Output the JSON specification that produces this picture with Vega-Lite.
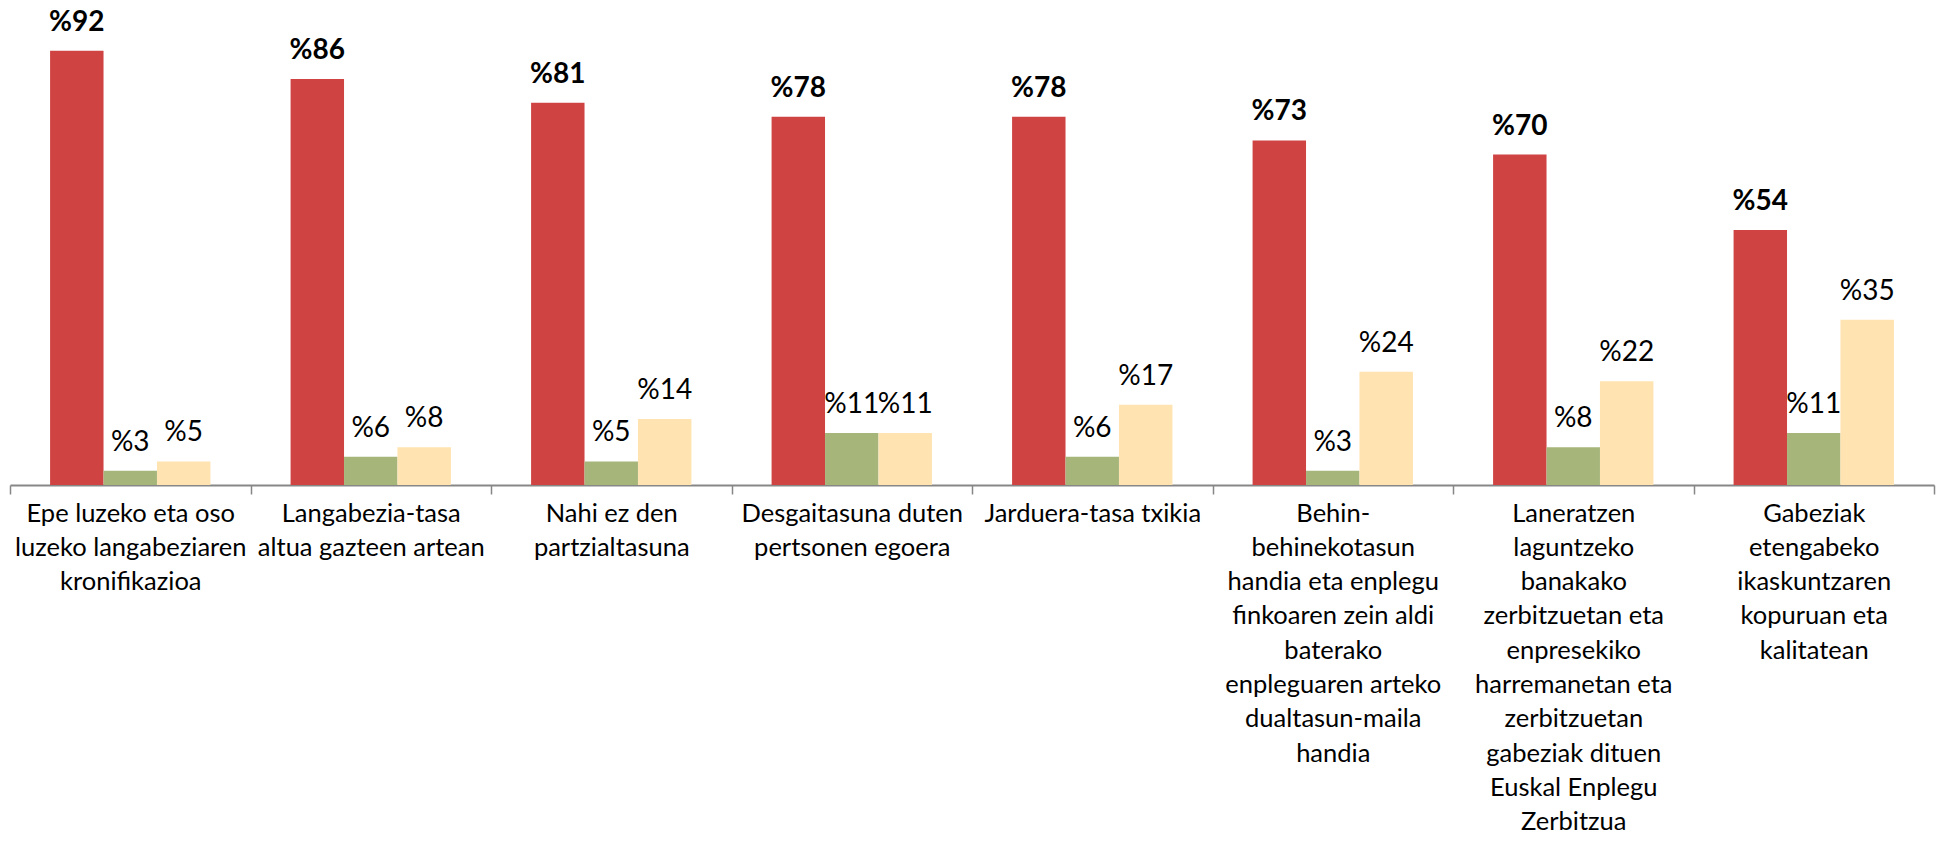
{
  "$schema": "https://vega.github.io/schema/vega-lite/v6.json",
  "autosize": {"type": "none"},
  "padding": {"left": 10, "top": 13, "right": 7, "bottom": 357},
  "width": 1924,
  "height": 472,
  "background": "white",
  "config": {"view": {"stroke": null}, "font": "Lato"},
  "data": {
    "values": [
      {"cat": "Epe luzeko eta oso|luzeko langabeziaren|kronifikazioa", "s": "A", "v": 92},
      {"cat": "Epe luzeko eta oso|luzeko langabeziaren|kronifikazioa", "s": "B", "v": 3},
      {"cat": "Epe luzeko eta oso|luzeko langabeziaren|kronifikazioa", "s": "C", "v": 5},
      {"cat": "Langabezia-tasa|altua gazteen artean", "s": "A", "v": 86},
      {"cat": "Langabezia-tasa|altua gazteen artean", "s": "B", "v": 6},
      {"cat": "Langabezia-tasa|altua gazteen artean", "s": "C", "v": 8},
      {"cat": "Nahi ez den|partzialtasuna", "s": "A", "v": 81},
      {"cat": "Nahi ez den|partzialtasuna", "s": "B", "v": 5},
      {"cat": "Nahi ez den|partzialtasuna", "s": "C", "v": 14},
      {"cat": "Desgaitasuna duten|pertsonen egoera", "s": "A", "v": 78},
      {"cat": "Desgaitasuna duten|pertsonen egoera", "s": "B", "v": 11},
      {"cat": "Desgaitasuna duten|pertsonen egoera", "s": "C", "v": 11},
      {"cat": "Jarduera-tasa txikia", "s": "A", "v": 78},
      {"cat": "Jarduera-tasa txikia", "s": "B", "v": 6},
      {"cat": "Jarduera-tasa txikia", "s": "C", "v": 17},
      {"cat": "Behin-|behinekotasun|handia eta enplegu|finkoaren zein aldi|baterako|enpleguaren arteko|dualtasun-maila|handia", "s": "A", "v": 73},
      {"cat": "Behin-|behinekotasun|handia eta enplegu|finkoaren zein aldi|baterako|enpleguaren arteko|dualtasun-maila|handia", "s": "B", "v": 3},
      {"cat": "Behin-|behinekotasun|handia eta enplegu|finkoaren zein aldi|baterako|enpleguaren arteko|dualtasun-maila|handia", "s": "C", "v": 24},
      {"cat": "Laneratzen|laguntzeko|banakako|zerbitzuetan eta|enpresekiko|harremanetan eta|zerbitzuetan|gabeziak dituen|Euskal Enplegu|Zerbitzua", "s": "A", "v": 70},
      {"cat": "Laneratzen|laguntzeko|banakako|zerbitzuetan eta|enpresekiko|harremanetan eta|zerbitzuetan|gabeziak dituen|Euskal Enplegu|Zerbitzua", "s": "B", "v": 8},
      {"cat": "Laneratzen|laguntzeko|banakako|zerbitzuetan eta|enpresekiko|harremanetan eta|zerbitzuetan|gabeziak dituen|Euskal Enplegu|Zerbitzua", "s": "C", "v": 22},
      {"cat": "Gabeziak|etengabeko|ikaskuntzaren|kopuruan eta|kalitatean", "s": "A", "v": 54},
      {"cat": "Gabeziak|etengabeko|ikaskuntzaren|kopuruan eta|kalitatean", "s": "B", "v": 11},
      {"cat": "Gabeziak|etengabeko|ikaskuntzaren|kopuruan eta|kalitatean", "s": "C", "v": 35}
    ]
  },
  "transform": [{"calculate": "'%' + datum.v", "as": "lbl"}],
  "encoding": {
    "x": {
      "field": "cat", "type": "nominal", "sort": null, "title": null,
      "scale": {"paddingInner": 0, "paddingOuter": 0},
      "axis": {
        "labelExpr": "split(datum.label, '|')",
        "labelAngle": 0, "labelFont": "Lato", "labelFontSize": 25.5, "labelColor": "#000000",
        "labelLineHeight": 34.3, "labelLimit": 0, "labelOverlap": false, "labelPadding": 7,
        "labelBaseline": "top",
        "tickBand": "extent", "tickSize": 9, "tickColor": "#878787", "tickWidth": 1.5,
        "domainColor": "#878787", "domainWidth": 2, "grid": false
      }
    },
    "xOffset": {"field": "s", "type": "nominal", "scale": {"paddingInner": 0, "paddingOuter": 0.75}},
    "y": {"field": "v", "type": "quantitative", "scale": {"domain": [0, 100]}, "axis": null}
  },
  "layer": [
    {
      "mark": {"type": "bar"},
      "encoding": {
        "color": {"field": "s", "type": "nominal", "legend": null,
          "scale": {"domain": ["A", "B", "C"], "range": ["#CF4343", "#A6B67B", "#FFE3B0"]}}
      }
    },
    {
      "transform": [{"filter": "datum.s === 'A'"}],
      "mark": {"type": "text", "font": "Lato", "fontSize": 28, "fontWeight": "bold", "color": "#000000", "baseline": "alphabetic", "dy": -20},
      "encoding": {"text": {"field": "lbl"}}
    },
    {
      "transform": [{"filter": "datum.s !== 'A'"}],
      "mark": {"type": "text", "font": "Lato", "fontSize": 28, "color": "#000000", "baseline": "alphabetic", "dy": -20},
      "encoding": {"text": {"field": "lbl"}}
    }
  ]
}
